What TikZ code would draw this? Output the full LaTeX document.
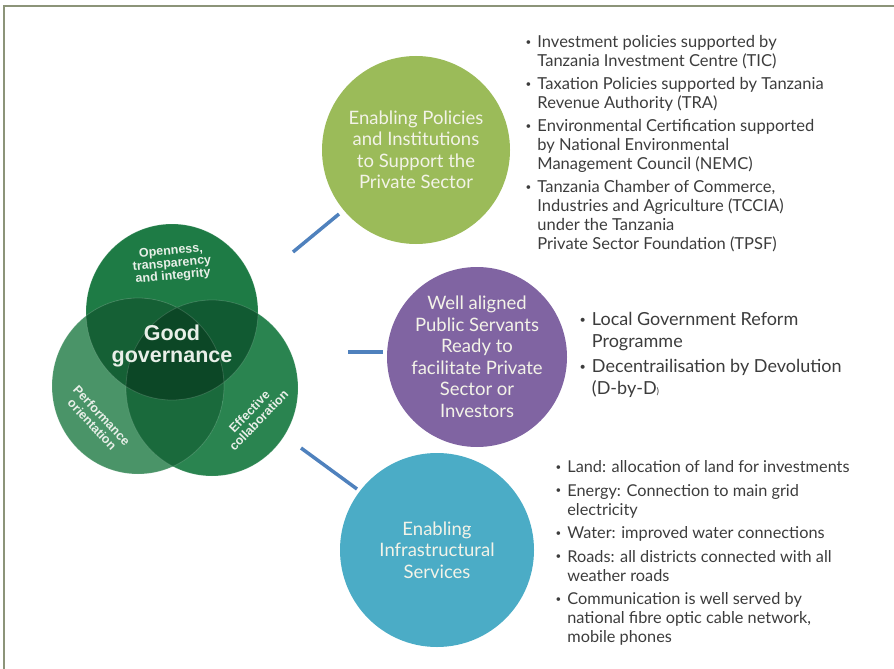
\documentclass[tikz,border=0pt]{standalone}
\usepackage{fontspec}
\setmainfont{Lato}
\newfontfamily\vennfont{Liberation Sans}
\definecolor{polgreen}{HTML}{9BBB59}
\definecolor{servpurple}{HTML}{8064A2}
\definecolor{infrablue}{HTML}{4BACC6}
\definecolor{linkblue}{HTML}{4F81BD}
\definecolor{framecol}{HTML}{8C9479}
\definecolor{circtxt}{HTML}{F3F3E8}
\definecolor{listtxt}{HTML}{3C3C3C}
\definecolor{vtxt}{HTML}{E8EFE8}
\definecolor{vtop}{HTML}{1E7B45}
\definecolor{vleft}{HTML}{4A9468}
\definecolor{vright}{HTML}{2A8450}
\definecolor{vtl}{HTML}{156035}
\definecolor{vtr}{HTML}{115A32}
\definecolor{vlr}{HTML}{1A6A3C}
\definecolor{vall}{HTML}{0C4726}
\newcommand{\bl}{\raisebox{.15em}{\scalebox{.6}{\textbullet}}}

\begin{document}
\begin{tikzpicture}[x=1pt,y=-1pt,
	bigc/.style={circle,inner sep=0pt,align=center,text=circtxt,font=\fontsize{18.5}{21.5}\selectfont},
	lst/.style={anchor=north west,inner sep=0pt,text=listtxt},
	link/.style={draw=linkblue,line width=3.5pt},
	vlab/.style={text=vtxt,align=center,inner sep=0pt,font=\vennfont\bfseries}]
	\useasboundingbox (0,0) rectangle (894,669);
	\draw [framecol,line width=1.5pt] (4,669) -- (4,6) -- (894,6);
	\coordinate (vt) at (172,312);
	\coordinate (vl) at (138,386);
	\coordinate (vr) at (212,388);
	\fill [vtop] (vt) ellipse [x radius=86pt,y radius=88pt];
	\fill [vleft] (vl) ellipse [x radius=86pt,y radius=88pt];
	\fill [vright] (vr) ellipse [x radius=86pt,y radius=88pt];
	\begin{scope}
	\clip (vt) ellipse [x radius=86pt,y radius=88pt];
	\fill [vtl] (vl) ellipse [x radius=86pt,y radius=88pt];
	\fill [vtr] (vr) ellipse [x radius=86pt,y radius=88pt];
	\clip (vl) ellipse [x radius=86pt,y radius=88pt];
	\fill [vall] (vr) ellipse [x radius=86pt,y radius=88pt];
	\end{scope}
	\begin{scope}
	\clip (vl) ellipse [x radius=86pt,y radius=88pt];
	\clip (vr) ellipse [x radius=86pt,y radius=88pt];
	\fill [vlr] (vl) ellipse [x radius=86pt,y radius=88pt];
	\clip (vt) ellipse [x radius=86pt,y radius=88pt];
	\fill [vall] (vl) ellipse [x radius=86pt,y radius=88pt];
	\end{scope}
	\draw [white,opacity=.15,line width=.8pt] (vt) ellipse [x radius=86pt,y radius=88pt] (vl) ellipse [x radius=86pt,y radius=88pt] (vr) ellipse [x radius=86pt,y radius=88pt];
	\node [vlab,rotate=5,font=\vennfont\bfseries\fontsize{12.5}{12.5}\selectfont] (open) at (172,264) {Openness,\\transparency\\and integrity};
	\node [vlab,font=\vennfont\bfseries\fontsize{21.5}{22.5}\selectfont] (good) at (172,346) {Good\\governance};
	\node [vlab,rotate=-47,font=\vennfont\bfseries\fontsize{12.5}{13}\selectfont] (perf) at (97,420) {Performance\\orientation};
	\node [vlab,rotate=46,font=\vennfont\bfseries\fontsize{12.5}{13}\selectfont] (coll) at (254,416) {Effective\\collaboration};
	\node [bigc,fill=polgreen,minimum size=188pt] (pol) at (416,150) {Enabling Policies\\and Institutions\\to Support the\\Private Sector};
	\node [bigc,fill=servpurple,minimum size=180pt] (serv) at (477,357) {Well aligned\\Public Servants\\Ready to\\facilitate Private\\Sector or\\Investors};
	\node [bigc,fill=infrablue,minimum size=194pt] (infra) at (437,550) {Enabling\\Infrastructural\\Services};
	\coordinate (l1a) at (293,252); \coordinate (l1b) at (339,214);
	\coordinate (l2a) at (348,352); \coordinate (l2b) at (383,352);
	\coordinate (l3a) at (301,448); \coordinate (l3b) at (357,489);
	\draw [link] (l1a) -- (l1b);
	\draw [link] (l2a) -- (l2b);
	\draw [link] (l3a) -- (l3b);
	\node [lst,font=\fontsize{16.5}{19}\selectfont] (pollist) at (525.5,34.4) {\begin{tabular}{@{}l@{\hspace{6pt}}l@{}}
		\bl & Investment policies supported by\\
		& Tanzania Investment Centre (TIC)\\[4pt]
		\bl & Taxation Policies supported by Tanzania\\
		& Revenue Authority (TRA)\\[4pt]
		\bl & Environmental Certification supported\\
		& by National Environmental\\
		& Management Council (NEMC)\\[4pt]
		\bl & Tanzania Chamber of Commerce,\\
		& Industries and Agriculture (TCCIA)\\
		& under the Tanzania\\
		& Private Sector Foundation (TPSF)
	\end{tabular}};
	\node [lst,font=\fontsize{18}{21.5}\selectfont] (servlist) at (579.5,310.5) {\begin{tabular}{@{}l@{\hspace{6pt}}l@{}}
		\bl & Local Government Reform\\
		& Programme\\[4pt]
		\bl & Decentrailisation by Devolution\\
		& (D-by-D{\small)}
	\end{tabular}};
	\node [lst,font=\fontsize{16.3}{19}\selectfont] (infralist) at (555.5,459) {\begin{tabular}{@{}l@{\hspace{6pt}}l@{}}
		\bl & Land: allocation of land for investments\\[4.5pt]
		\bl & Energy: Connection to main grid\\
		& electricity\\[4.5pt]
		\bl & Water: improved water connections\\[4.5pt]
		\bl & Roads: all districts connected with all\\
		& weather roads\\[4.5pt]
		\bl & Communication is well served by\\
		& national fibre optic cable network,\\
		& mobile phones
	\end{tabular}};
\end{tikzpicture}
\end{document}
